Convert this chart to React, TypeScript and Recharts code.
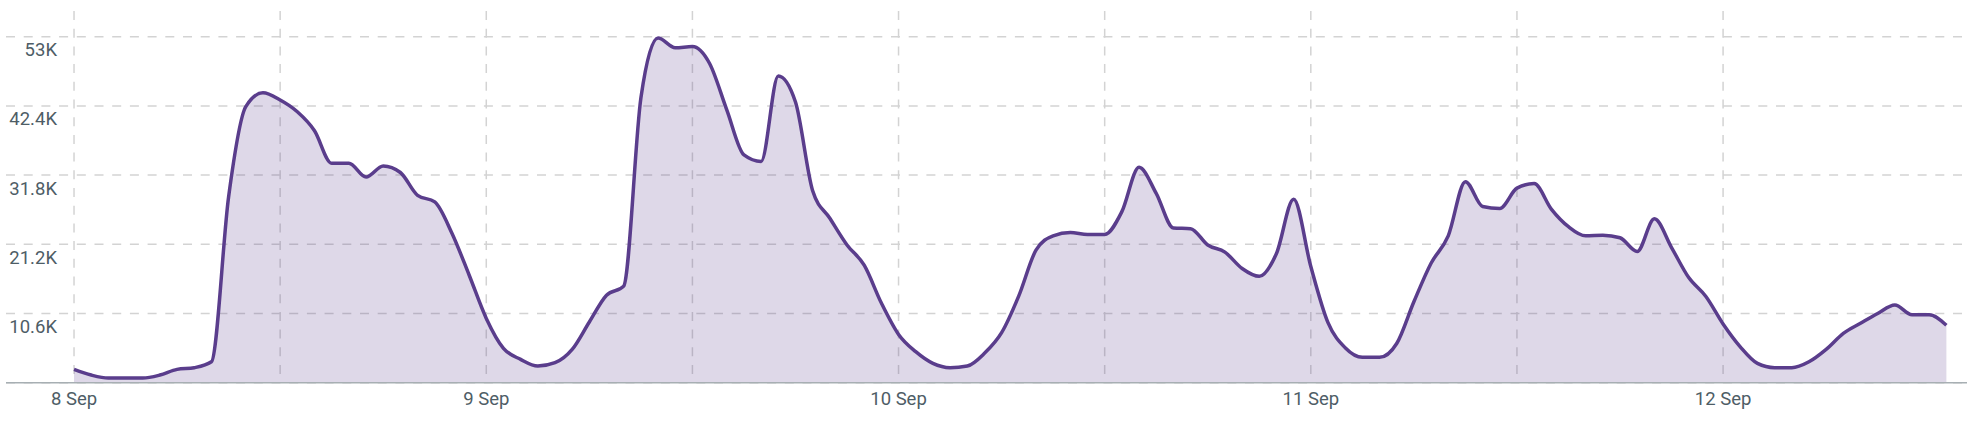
import React from "react";
import { AreaChart, Area, XAxis, YAxis, CartesianGrid } from "recharts";

// hourly values (in thousands), starting 8 Sep 00:00
const hours: number[] = Array.from({ length: 110 }, (_, i) => i);
const valuesK: number[] = [
  2.04, 1.17, 0.71, 0.71, 0.71, 1.17, 2.04, 2.3, 3.2, 28.5,
  42.3, 44.4, 43.3, 41.5, 38.6, 33.6, 33.6, 31.5, 33.2, 32.2,
  28.7, 27.7, 22.9, 16.5, 9.85, 5.26, 3.57, 2.55, 3.06, 5.1,
  9.3, 13.4, 14.8, 43.6, 52.8, 51.3, 51.5, 48.9, 41.8, 34.9,
  33.9, 47.0, 43.0, 29.4, 25.2, 21.1, 18.0, 12.2, 7.4, 4.75,
  2.96, 2.3, 2.55, 4.5, 7.66, 13.3, 20.3, 22.5, 23.0, 22.7,
  22.7, 26.2, 33.0, 29.0, 23.7, 23.6, 21.1, 20.0, 17.5, 16.3,
  19.8, 28.1, 17.8, 9.2, 5.36, 3.88, 3.88, 6.0, 12.4, 18.3,
  22.5, 30.8, 27.0, 26.7, 29.8, 30.5, 26.6, 23.9, 22.5, 22.6,
  22.2, 20.1, 25.1, 20.7, 16.1, 13.2, 9.0, 5.5, 2.96, 2.3,
  2.3, 3.2, 5.1, 7.56, 9.1, 10.6, 11.9, 10.4, 10.4, 8.8,
];
const xTicks: number[] = [0, 12, 24, 36, 48, 60, 72, 84, 96];
const dayLabels: string[] = ["8 Sep", "9 Sep", "10 Sep", "11 Sep", "12 Sep"];
const yTicks: number[] = [0, 10.6, 21.2, 31.8, 42.4, 53];
const yTickLabels: string[] = ["", "10.6K", "21.2K", "31.8K", "42.4K", "53K"];

const data = hours.map((h, i) => ({ h, v: valuesK[i] }));

const FONT = "Roboto, 'Noto Sans', sans-serif";
const TEXT = "#4e5d66";

const XTick = (props: any) => {
  const { x, y, payload } = props;
  const v = payload.value as number;
  if (v % 24 !== 0) return null;
  const label = dayLabels[v / 24];
  return (
    <text x={x} y={y + 15.5} dy="0.355em" textAnchor="middle" fill={TEXT} fontSize={18.5} fontFamily={FONT}>
      {label}
    </text>
  );
};

const YTick = (props: any) => {
  const { y, payload } = props;
  const idx = yTicks.indexOf(payload.value);
  if (idx <= 0) return null;
  return (
    <text x={57} y={y + 13} dy="0.355em" textAnchor="end" fill={TEXT} fontSize={18.5} fontFamily={FONT}>
      {yTickLabels[idx]}
    </text>
  );
};

export default function App() {
  return (
    <div style={{ position: "absolute", left: 0, top: 0, width: 1967, height: 441, background: "#fff" }}>
      <AreaChart width={1967} height={441} data={data} margin={{ top: 11, right: 0, bottom: 28.3, left: 5 }}>
        <CartesianGrid stroke="#d3d3d3" strokeWidth={1.5} strokeDasharray="9 8.7" syncWithTicks />
        <XAxis
          dataKey="h"
          type="number"
          domain={[-3.96, 110.2]}
          ticks={xTicks}
          interval={0}
          height={30}
          tickSize={0}
          tickMargin={0}
          tickLine={false}
          axisLine={{ stroke: "#a7afb3", strokeWidth: 1.5 }}
          tick={<XTick />}
          allowDataOverflow
        />
        <YAxis
          type="number"
          domain={[0, 56.94]}
          ticks={yTicks}
          interval={0}
          width={1}
          axisLine={false}
          tickLine={false}
          tick={<YTick />}
          allowDataOverflow
        />
        <Area
          type="monotone"
          dataKey="v"
          stroke="#5a3d8c"
          strokeWidth={3.5}
          fill="#5b3c8d"
          fillOpacity={0.2}
          isAnimationActive={false}
          dot={false}
          activeDot={false}
        />
      </AreaChart>
    </div>
  );
}
